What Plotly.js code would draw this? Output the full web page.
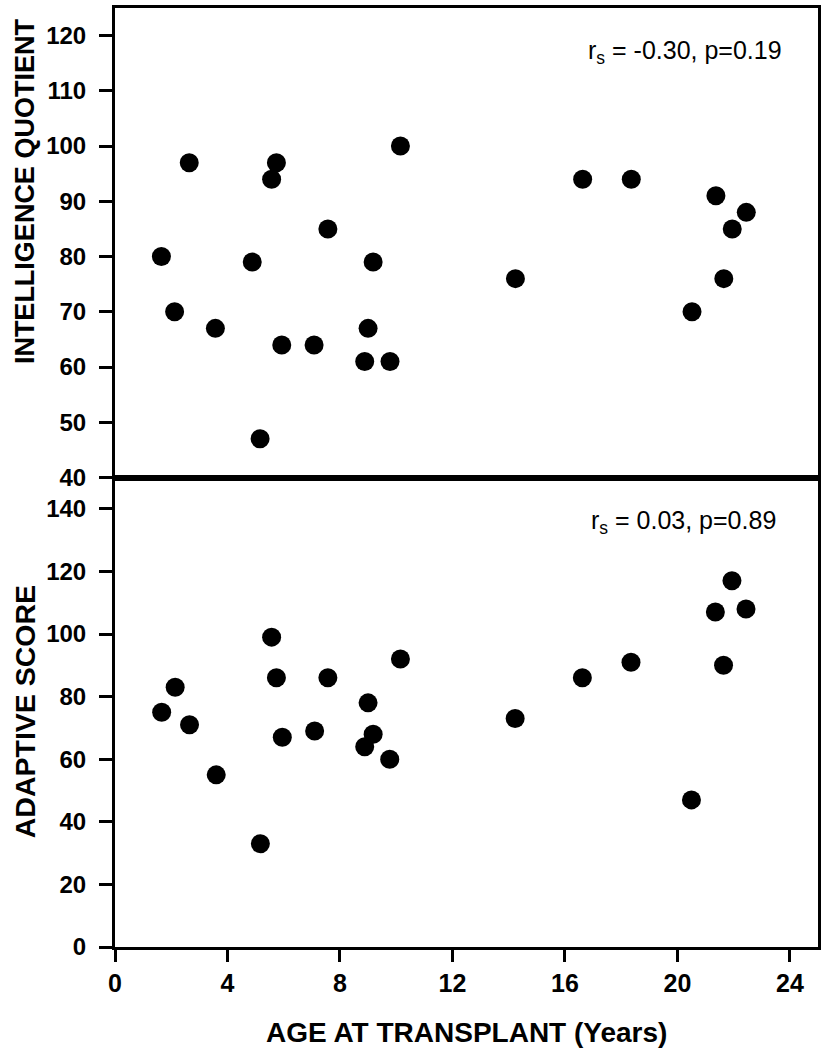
<!DOCTYPE html>
<html>
<head>
<meta charset="utf-8">
<script src="https://cdn.plot.ly/plotly-3.0.1.min.js"></script>
<style>html,body{margin:0;padding:0;background:#fff;}#chart{width:825px;height:1050px;}</style>
</head>
<body>
<div id="chart"></div>
<script>
// Intelligence quotient vs age at transplant
const ageIQ = [1.65, 2.12, 2.64, 3.57, 4.88, 5.16, 5.57, 5.74, 5.93, 7.08, 7.57, 8.88, 9.0, 9.18, 9.78, 10.15, 14.24, 16.63, 18.36, 20.52, 21.37, 21.65, 21.95, 22.45];
const iq    = [80, 70, 97, 67, 79, 47, 94, 97, 64, 64, 85, 61, 67, 79, 61, 100, 76, 94, 94, 70, 91, 76, 85, 88];

// Adaptive score vs age at transplant
const ageAdaptive = [1.66, 2.14, 2.65, 3.6, 5.17, 5.57, 5.74, 5.95, 7.1, 7.57, 8.88, 9.0, 9.18, 9.77, 10.15, 14.23, 16.62, 18.35, 20.5, 21.35, 21.64, 21.94, 22.44];
const adaptive    = [75, 83, 71, 55, 33, 99, 86, 67, 69, 86, 64, 78, 68, 60, 92, 73, 86, 91, 47, 107, 90, 117, 108];

const xTicks = [0, 4, 8, 12, 16, 20, 24];
const iqTicks = [40, 50, 60, 70, 80, 90, 100, 110, 120];
const adaptiveTicks = [0, 20, 40, 60, 80, 100, 120, 140];

const annIQ = "r<sub>s</sub> = -0.30, p=0.19";
const annAdaptive = "r<sub>s</sub> = 0.03, p=0.89";
const titleIQ = "INTELLIGENCE QUOTIENT";
const titleAdaptive = "ADAPTIVE SCORE";
const titleX = "AGE AT TRANSPLANT (Years)";

const fam = "Liberation Sans, Arial, sans-serif";
const marker = {color: "#000", size: 19, symbol: "circle"};
const boldText = v => v.map(t => "<b>" + t + "</b>");

const traces = [
  {x: ageIQ, y: iq, type: "scatter", mode: "markers", marker: marker, xaxis: "x", yaxis: "y", hoverinfo: "skip"},
  {x: ageAdaptive, y: adaptive, type: "scatter", mode: "markers", marker: marker, xaxis: "x2", yaxis: "y2", hoverinfo: "skip"}
];

const axisLine = {showline: true, linecolor: "#000", linewidth: 3, mirror: true, showgrid: false, zeroline: false};
const tickFont = {family: fam, size: 24, color: "#000"};

const layout = {
  width: 825, height: 1050,
  margin: {l: 115, r: 7, t: 8, b: 103},
  paper_bgcolor: "#fff", plot_bgcolor: "#fff",
  showlegend: false,
  font: {family: fam, color: "#000"},
  xaxis: Object.assign({}, axisLine, {range: [0, 25], anchor: "y", showticklabels: false, ticks: "", tickvals: xTicks}),
  yaxis: Object.assign({}, axisLine, {domain: [0.5, 1], range: [40, 125], anchor: "x",
    tickmode: "array", tickvals: iqTicks, ticktext: boldText(iqTicks), ticklabelstandoff: 8,
    ticks: "outside", ticklen: 13, tickwidth: 3, tickcolor: "#000", tickfont: tickFont}),
  xaxis2: Object.assign({}, axisLine, {range: [0, 25], anchor: "y2",
    tickmode: "array", tickvals: xTicks, ticktext: boldText(xTicks),
    ticks: "outside", ticklen: 12, tickwidth: 3, tickcolor: "#000", tickfont: {family: fam, size: 25, color: "#000"}}),
  yaxis2: Object.assign({}, axisLine, {domain: [0, 0.5], range: [0, 150], anchor: "x2",
    tickmode: "array", tickvals: adaptiveTicks, ticktext: boldText(adaptiveTicks), ticklabelstandoff: 8,
    ticks: "outside", ticklen: 13, tickwidth: 3, tickcolor: "#000", tickfont: tickFont}),
  annotations: [
    {text: annIQ, xref: "paper", yref: "paper", x: 0.811, y: 0.953, xanchor: "center", yanchor: "middle", showarrow: false,
     font: {family: fam, size: 25}},
    {text: annAdaptive, xref: "paper", yref: "paper", x: 0.808, y: 0.453, xanchor: "center", yanchor: "middle", showarrow: false,
     font: {family: fam, size: 25}},
    {text: "<b>" + titleIQ + "</b>", xref: "paper", yref: "paper", x: -0.128, y: 0.805, xanchor: "center", yanchor: "middle", textangle: -90, showarrow: false,
     font: {family: fam, size: 27}},
    {text: "<b>" + titleAdaptive + "</b>", xref: "paper", yref: "paper", x: -0.128, y: 0.25, xanchor: "center", yanchor: "middle", textangle: -90, showarrow: false,
     font: {family: fam, size: 28.5}},
    {text: "<b>" + titleX + "</b>", xref: "paper", yref: "paper", x: 0.5, y: -0.091, xanchor: "center", yanchor: "middle", showarrow: false,
     font: {family: fam, size: 28}}
  ]
};

Plotly.newPlot("chart", traces, layout, {staticPlot: true, displayModeBar: false});
</script>
</body>
</html>
